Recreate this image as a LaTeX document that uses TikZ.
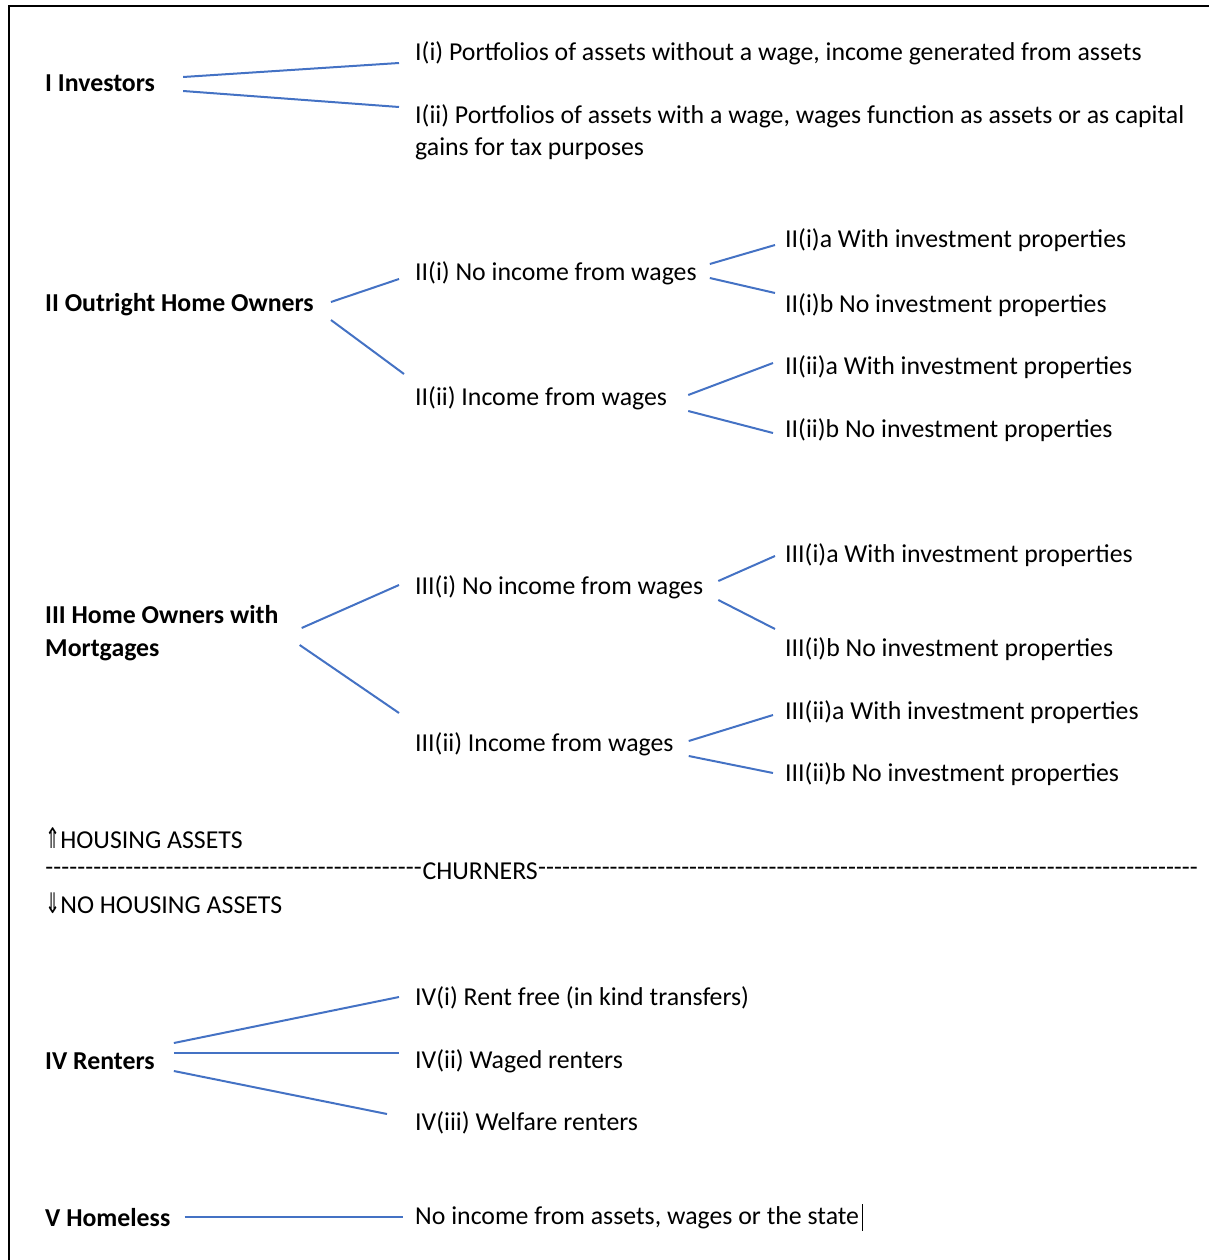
\documentclass[tikz,border=0pt]{standalone}
\usepackage{fontspec}
\setmainfont{Carlito}
\newfontfamily\arrowfont{DejaVu Sans}
\usetikzlibrary{positioning}
\definecolor{BranchBlue}{RGB}{68,114,196}

\begin{document}
\begin{tikzpicture}[x=1pt, y=-1pt,
    every node/.style={inner sep=0pt, anchor=west, font=\fontsize{25.8}{32}\selectfont},
    group/.style={font=\fontsize{25.8}{33}\selectfont\bfseries, align=left},
    branch/.style={BranchBlue, line width=2pt}]
  \useasboundingbox (0,0) rectangle (1209,1260);

  % Frame
  \draw[line width=2.5pt] (9,1262) -- (9,6) -- (1209,6);

  % I Investors
  \node[group] (inv) at (45,83) {I Investors};
  \node (inv-i) at (415,53) {I(i) Portfolios of assets without a wage, income generated from assets};
  \node[align=left] (inv-ii) at (415,132) {I(ii) Portfolios of assets with a wage, wages function as assets or as capital\\gains for tax purposes};
  \draw[branch] ([shift={(28,-6)}]inv.east) -- ([shift={(-16,10)}]inv-i.west);
  \draw[branch] ([shift={(28,8)}]inv.east) -- ([shift={(-16,-25)}]inv-ii.west);

  % II Outright Home Owners
  \node[group] (own) at (45,305) {II Outright Home Owners};
  \node (own-i) at (415,273) {II(i) No income from wages};
  \node (own-ii) at (415,398) {II(ii) Income from wages};
  \node (own-ia) at (785,240) {II(i)a With investment properties};
  \node (own-ib) at (785,305) {II(i)b No investment properties};
  \node (own-iia) at (785,367) {II(ii)a With investment properties};
  \node (own-iib) at (785,430) {II(ii)b No investment properties};
  \draw[branch] ([shift={(17,-3)}]own.east) -- ([shift={(-16,6)}]own-i.west);
  \draw[branch] ([shift={(17,15)}]own.east) -- ([shift={(-11,-24)}]own-ii.west);
  \draw[branch] ([shift={(13,-9)}]own-i.east) -- ([shift={(-10,5)}]own-ia.west);
  \draw[branch] ([shift={(13,5)}]own-i.east) -- ([shift={(-10,-12)}]own-ib.west);
  \draw[branch] ([shift={(21,-3)}]own-ii.east) -- ([shift={(-12,-4)}]own-iia.west);
  \draw[branch] ([shift={(21,13)}]own-ii.east) -- ([shift={(-12,3)}]own-iib.west);

  % III Home Owners with Mortgages
  \node[group] (mort) at (45,633) {III Home Owners with\\Mortgages};
  \node (mort-i) at (415,587) {III(i) No income from wages};
  \node (mort-ii) at (415,744) {III(ii) Income from wages};
  \node (mort-ia) at (785,555) {III(i)a With investment properties};
  \node (mort-ib) at (785,649) {III(i)b No investment properties};
  \node (mort-iia) at (785,712) {III(ii)a With investment properties};
  \node (mort-iib) at (785,774) {III(ii)b No investment properties};
  \draw[branch] ([shift={(23,-5)}]mort.east) -- ([shift={(-16,-2)}]mort-i.west);
  \draw[branch] ([shift={(21,12)}]mort.east) -- ([shift={(-16,-31)}]mort-ii.west);
  \draw[branch] ([shift={(15,-6)}]mort-i.east) -- ([shift={(-10,1)}]mort-ia.west);
  \draw[branch] ([shift={(15,13)}]mort-i.east) -- ([shift={(-10,-20)}]mort-ib.west);
  \draw[branch] ([shift={(15,-3)}]mort-ii.east) -- ([shift={(-12,3)}]mort-iia.west);
  \draw[branch] ([shift={(15,12)}]mort-ii.east) -- ([shift={(-12,-1)}]mort-iib.west);

  % Churners divide
  \node (up) at (45,838) {\scalebox{0.7}[1.1]{\arrowfont ⇑}HOUSING ASSETS};
  \node (dash-l) at (45,871) {\hbox to 377pt{\xleaders\hbox{-}\hfill}};
  \node[right=0pt of dash-l] (churn) {CHURNERS};
  \node[right=0pt of churn] (dash-r) {\hbox to 660pt{\xleaders\hbox{-}\hfill}};
  \node (down) at (45,903) {\scalebox{0.7}[1.1]{\arrowfont ⇓}NO HOUSING ASSETS};

  % IV Renters
  \node[group] (rent) at (45,1061) {IV Renters};
  \node (rent-i) at (415,998) {IV(i) Rent free (in kind transfers)};
  \node (rent-ii) at (415,1061) {IV(ii) Waged renters};
  \node (rent-iii) at (415,1123) {IV(iii) Welfare renters};
  \draw[branch] ([shift={(19,-18)}]rent.east) -- ([shift={(-16,-1)}]rent-i.west);
  \draw[branch] ([shift={(19,-8)}]rent.east) -- ([shift={(-16,-8)}]rent-ii.west);
  \draw[branch] ([shift={(19,10)}]rent.east) -- ([shift={(-28,-9)}]rent-iii.west);

  % V Homeless
  \node[group] (home) at (45,1218) {V Homeless};
  \node (home-x) at (415,1218) {No income from assets, wages or the state};
  \draw[branch] ([shift={(14,-1)}]home.east) -- ([shift={(-12,-1)}]home-x.west);
  \draw[line width=1.5pt] ([shift={(3,-14)}]home-x.east) -- ([shift={(3,13)}]home-x.east);
\end{tikzpicture}
\end{document}
